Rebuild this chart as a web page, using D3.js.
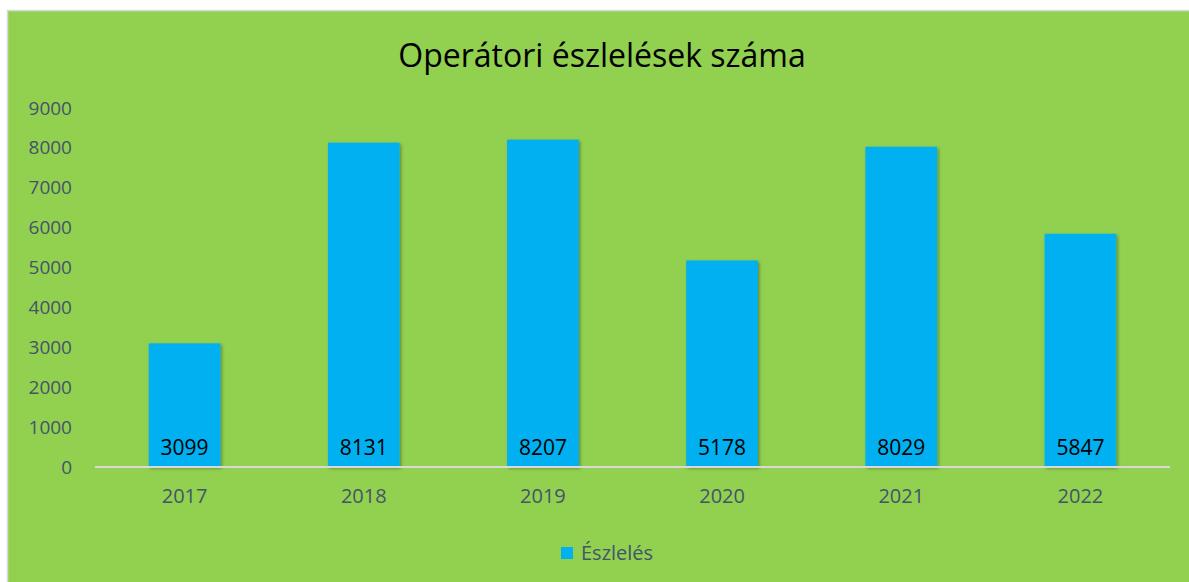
<!DOCTYPE html>
<html><head><meta charset="utf-8">
<script src="https://cdn.jsdelivr.net/npm/d3@7"></script>
<style>body{margin:0;background:#fff;} svg{display:block;}</style>
</head><body>
<svg id="c" width="1189" height="582"></svg>
<script>
const categories = ["2017","2018","2019","2020","2021","2022"];
const values = [3099, 8131, 8207, 5178, 8029, 5847];
const yTicks = [0,1000,2000,3000,4000,5000,6000,7000,8000,9000];
const seriesName = "Észlelés";
const title = "Operátori észlelések száma";

const svg = d3.select("#c");
const font = "'Open Sans', 'Noto Sans', sans-serif";
svg.append("rect").attr("x",7.5).attr("y",10.5).attr("width",1190).attr("height",580)
  .attr("fill","#92d050").attr("stroke","#d9d9d9").attr("stroke-width",1.5);

const m = {left:95, right:1170, top:108, bottom:467};
const x = d3.scaleBand().domain(categories).range([m.left, m.right]).paddingInner(0.6).paddingOuter(0.3);
const y = d3.scaleLinear().domain([0,9000]).range([m.bottom, m.top]);

const defs = svg.append("defs");
const f = defs.append("filter").attr("id","sh").attr("x","-20%").attr("y","-5%").attr("width","140%").attr("height","110%");
f.append("feDropShadow").attr("dx",1.5).attr("dy",1.5).attr("stdDeviation",1.5).attr("flood-color","#000").attr("flood-opacity",0.35);

// title
svg.append("text").attr("x",602).attr("y",67).attr("text-anchor","middle")
  .attr("font-family",font).attr("font-size",32).attr("fill","#000").text(title);

// y axis
const ya = svg.append("g").attr("transform",`translate(${m.left},0)`)
  .call(d3.axisLeft(y).tickValues(yTicks).tickFormat(d3.format("d")).tickSize(0).tickPadding(23));
ya.select(".domain").remove();
ya.selectAll("text").attr("font-family",font).attr("font-size",19).attr("fill","#44546a");

// bars
svg.append("g").selectAll("rect").data(values).join("rect")
  .attr("x",(d,i)=>x(categories[i])).attr("width",x.bandwidth())
  .attr("y",d=>y(d)).attr("height",d=>y(0)-y(d))
  .attr("fill","#00b0f0").attr("filter","url(#sh)");

// x axis
const xa = svg.append("g").attr("transform",`translate(0,${m.bottom})`)
  .call(d3.axisBottom(x).tickSize(0).tickPadding(22));
xa.select(".domain").attr("stroke","#d9d9d9").attr("stroke-width",2).attr("d",`M${m.left},0H${m.right}`);
xa.selectAll("text").attr("font-family",font).attr("font-size",20).attr("fill","#44546a");

// labels
svg.append("g").selectAll("text").data(values).join("text")
  .attr("x",(d,i)=>x(categories[i])+x.bandwidth()/2).attr("y",y(0)-12)
  .attr("text-anchor","middle").attr("font-family",font).attr("font-size",21).attr("fill","#000")
  .text(d=>d);

// legend
const lg = svg.append("g").attr("transform","translate(561,553)");
lg.append("rect").attr("x",0).attr("y",-6).attr("width",12).attr("height",12).attr("fill","#00b0f0");
lg.append("text").attr("x",20).attr("y",7).attr("font-family",font).attr("font-size",20).attr("fill","#44546a").text(seriesName);
</script>
</body></html>
